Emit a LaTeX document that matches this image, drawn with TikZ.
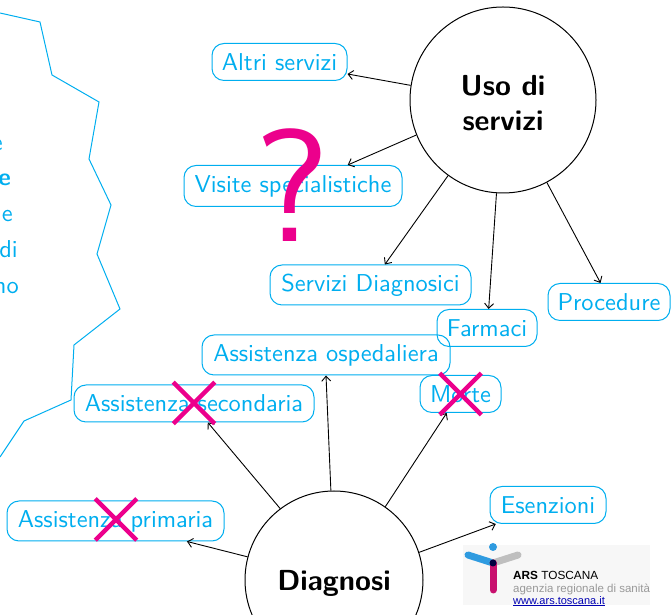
\documentclass[tikz,border=0pt]{standalone}
\usepackage{fontspec}
\setsansfont{lmsans10-regular.otf}[BoldFont=lmsans10-bold.otf]
\newfontfamily\logofont{Liberation Sans}
\usetikzlibrary{shapes.misc,arrows.meta}
\definecolor{arsblue}{HTML}{00AEEF}
\definecolor{arspink}{HTML}{EC008C}
\definecolor{logoblue}{HTML}{2F9BE0}
\definecolor{logopink}{HTML}{C8106E}
\newcommand{\giu}[1]{\raisebox{-3pt}[\height][\depth]{#1}}
\tikzset{
  voce/.style={draw=arsblue,text=arsblue,rounded corners=12pt,inner sep=0pt,line width=1pt,%
    minimum height=37pt,font=\fontsize{24.4}{28}\sffamily},
  tema/.style={draw=black,shape=circle,inner sep=0pt,align=center,line width=1pt,%
    font=\fontsize{29}{35}\sffamily\bfseries},
  freccia/.style={draw=black,->,>={Straight Barb[length=5pt,width=9pt]},line width=0.9pt},
  croce/.style={cross out,draw=arspink,line width=4.5pt,inner sep=0pt,%
    minimum size=37pt},
  riga/.style={anchor=base east,inner sep=0pt,text=arsblue,font=\fontsize{24.4}{28}\sffamily},
}
\begin{document}
\begin{tikzpicture}[x=1pt,y=1pt]
      \useasboundingbox (0,0) rectangle (672,615) ;
      \clip (0,0) rectangle (672,615) ;
      % nuvola a sinistra
      \draw[arsblue,line width=1pt] (0,602)--(40,593)--(52,540)--(99,513)--(89,456)%
      --(111,410)--(97,361)--(120,306)--(74,270)--(71,215)--(24,194)--(0,158) ;
      \node[riga] (riga1) at (3,464) {e} ;
      \node[riga,font=\fontsize{24.4}{28}\sffamily\bfseries] (riga2) at (11,429) {e} ;
      \node[riga] (riga3) at (13,393) {e} ;
      \node[riga] (riga4) at (18,357) {di} ;
      \node[riga] (riga5) at (19,321) {no} ;
      % temi
      \node[tema,minimum size=186pt] (uso) at (503,515) {\giu{Uso di}\\\giu{servizi}} ;
      \node[tema,minimum size=178pt] (diagnosi) at (334,35) {\giu{Diagnosi}} ;
      % voci
      \node[voce,minimum width=135pt] (altri) at (279.5,553) {Altri servizi} ;
      \node[voce,minimum width=218pt,minimum height=41pt] (visite) at (293,429) {Visite specialistiche} ;
      \node[voce,minimum width=201pt,minimum height=40pt] (diagnostici) at (370.5,330) {Servizi Diagnosici} ;
      \node[voce,minimum width=100pt] (farmaci) at (487,287) {Farmaci} ;
      \node[voce,minimum width=122pt] (procedure) at (609,313) {Procedure} ;
      \node[voce,minimum width=248pt,minimum height=40pt] (ospedaliera) at (326,260) {Assistenza ospedaliera} ;
      \node[voce,minimum width=240pt] (secondaria) at (194,211.5) {Assistenza secondaria} ;
      \node[voce,minimum width=81pt] (morte) at (460.5,221) {Morte} ;
      \node[voce,minimum width=217pt,minimum height=40pt] (primaria) at (115.5,94) {Assistenza primaria} ;
      \node[voce,minimum width=116pt] (esenzioni) at (548,110) {Esenzioni} ;
      % frecce
      \draw[freccia] (uso.171.4)--(altri.350.7) ;
      \draw[freccia] (uso.202)--(visite.21.9) ;
      \draw[freccia] (uso.234.9)--(diagnostici.55) ;
      \draw[freccia] (uso.266)--(farmaci.85) ;
      \draw[freccia] (uso.298)--(procedure.114) ;
      \draw[freccia] (diagnosi.165)--(primaria.344.4) ;
      \draw[freccia] (diagnosi.127.6)--(secondaria.306.6) ;
      \draw[freccia] (diagnosi.92)--(ospedaliera.270) ;
      \draw[freccia] (diagnosi.55)--(morte.234) ;
      \draw[freccia] (diagnosi.18.6)--(esenzioni.200) ;
      % segni sopra le voci
      \node[inner sep=0pt,text=arspink,font=\fontsize{160}{160}\sffamily] (domanda) at (292,430) {?} ;
      \node[croce] (x1) at (194,212) {} ;
      \node[croce] (x2) at (460.5,221) {} ;
      \node[croce] (x3) at (116,95.5) {} ;
      % logo
      \fill[black!3] (463,10) rectangle (650,70) ;
      \draw[logoblue,line width=7pt,line cap=round] (468,60)--(493,52) ;
      \draw[black!25,line width=7pt,line cap=round] (518,60)--(493,52) ;
      \draw[logopink,line width=7pt,line cap=round] (493,52)--(493,25) ;
      \fill[logoblue] (493,68) circle (4) ;
      \fill[black!75!blue] (493,52) circle (3.5) ;
      \node[anchor=west,inner sep=0pt,font=\logofont\fontsize{11.8}{12}\selectfont] %
      (arslogo) at (513,40) {\textbf{ARS} TOSCANA} ;
      \node[anchor=west,inner sep=0pt,text=black!40,font=\logofont\fontsize{11.5}{12}\selectfont] %
      (agenzia) at (513,26) {agenzia regionale di sanità} ;
      \node[anchor=west,inner sep=0pt,text=blue!70!black,font=\logofont\fontsize{11}{12}\selectfont] %
      (sito) at (513,14) {www.ars.toscana.it} ;
      \draw[blue!70!black,line width=0.5pt] (sito.south west)--(sito.south east) ;
\end{tikzpicture}
\end{document}
